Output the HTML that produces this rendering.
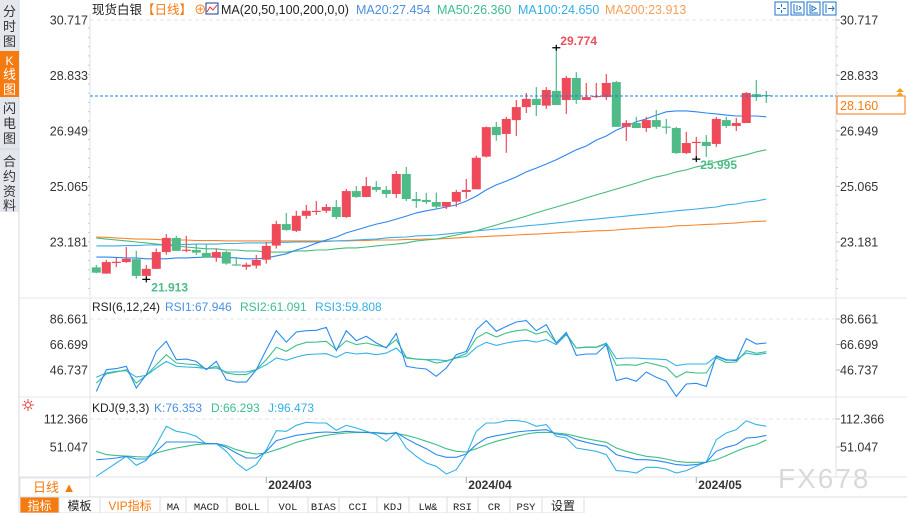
<!DOCTYPE html>
<html><head><meta charset="utf-8">
<style>
html,body{margin:0;padding:0;background:#fff;width:907px;height:513px;overflow:hidden;font-family:"Liberation Sans","Noto Sans CJK SC",sans-serif;}
svg{position:absolute;left:0;top:0;}
</style></head>
<body>
<svg id="chart" width="907" height="513" viewBox="0 0 907 513" xmlns="http://www.w3.org/2000/svg" font-family="Liberation Sans, Noto Sans CJK SC, sans-serif">
  <!-- left sidebar -->
  <g>
    <rect x="0" y="0" width="19" height="212" fill="#e4e7ee"/>
    <line x1="19" y1="0" x2="19" y2="513" stroke="#d5d9e0"/>
    <g><text x="9.5" y="16" font-size="13" fill="#333" text-anchor="middle">分</text><text x="9.5" y="31" font-size="13" fill="#333" text-anchor="middle">时</text><text x="9.5" y="46" font-size="13" fill="#333" text-anchor="middle">图</text></g>
    <rect x="0" y="51" width="19" height="46" fill="#f57a10"/>
    <text x="9.5" y="65" font-size="12" fill="#fff" text-anchor="middle">K</text><text x="9.5" y="79" font-size="13" fill="#fff" text-anchor="middle">线</text><text x="9.5" y="94" font-size="13" fill="#fff" text-anchor="middle">图</text>
    <g><text x="9.5" y="113" font-size="13" fill="#333" text-anchor="middle">闪</text><text x="9.5" y="128" font-size="13" fill="#333" text-anchor="middle">电</text><text x="9.5" y="143" font-size="13" fill="#333" text-anchor="middle">图</text></g>
    <line x1="0" y1="149" x2="19" y2="149" stroke="#cfd3db"/>
    <g><text x="9.5" y="166" font-size="13" fill="#333" text-anchor="middle">合</text><text x="9.5" y="181" font-size="13" fill="#333" text-anchor="middle">约</text><text x="9.5" y="196" font-size="13" fill="#333" text-anchor="middle">资</text><text x="9.5" y="210" font-size="13" fill="#333" text-anchor="middle">料</text></g>
  </g>
  <!-- frame lines -->
  <line x1="90" y1="14" x2="90" y2="477" stroke="#dde2ea"/>
  <line x1="836" y1="14" x2="836" y2="477" stroke="#dde2ea"/>
  <line x1="19" y1="298" x2="907" y2="298" stroke="#e3e7ee"/>
  <line x1="19" y1="397" x2="907" y2="397" stroke="#e3e7ee"/>
  <line x1="19" y1="477" x2="907" y2="477" stroke="#dde2ea"/>
  <line x1="90" y1="20" x2="836" y2="20" stroke="#e6e6e6" stroke-dasharray="4,3"/>
  <line x1="90" y1="319" x2="836" y2="319" stroke="#e6e6e6" stroke-dasharray="4,3"/>
  <line x1="90" y1="419" x2="836" y2="419" stroke="#e6e6e6" stroke-dasharray="4,3"/>

  <!-- legend -->
  <text y="14" font-size="12.5">
    <tspan x="92" fill="#222">现货白银</tspan><tspan fill="#f57a10">【日线】</tspan><tspan fill="#f57a10" dx="2">⊕</tspan>
    <tspan x="221" fill="#222">MA(20,50,100,200,0,0)</tspan>
    <tspan x="356" fill="#4a90e2">MA20:27.454</tspan>
    <tspan x="437" fill="#3dbd8a">MA50:26.360</tspan>
    <tspan x="518" fill="#33aee6">MA100:24.650</tspan>
    <tspan x="605" fill="#f5a05a">MA200:23.913</tspan>
  </text>
  <g><rect x="206" y="3" width="12" height="11" fill="#fff" stroke="#1a3d8f"/><polyline points="207,12 210,7 213,10 217,5" fill="none" stroke="#d33" stroke-width="1"/></g>

  <!-- top-right icons -->
  <g stroke="#1d73c9" fill="none">
    <g><rect x="775" y="2" width="13" height="13"/><path d="M781.5 4v3M781.5 10v3M777 8.5h3M783 8.5h3"/></g>
    <g><rect x="791" y="2" width="13" height="13"/><path d="M794 4v9h8M797 5v6M799 6l2 2-2 2"/></g>
    <g><rect x="807" y="2" width="13" height="13"/><path d="M810 4v9h8M812 6l4 2.5-4 2.5z"/></g>
    <g><rect x="823" y="2" width="13" height="13"/><path d="M826 4v9M828 8.5h6M832 6l2 2.5-2 2.5"/></g>
  </g>

  <g id="axes" font-size="12.5" fill="#333"></g>
  <g id="ma"></g>
  <g id="candles"></g>
  <g id="ind"></g>

  <!-- current price -->
  <line x1="90" y1="96" x2="836" y2="96" stroke="#1e7fe8" stroke-dasharray="3,2"/>
  <rect x="837" y="96" width="68" height="18" fill="#fff" stroke="#f57a10"/>
  <text x="840" y="110" font-size="12.5" fill="#f57a10">28.160</text>
  <path d="M896 92l4-4 4 4zM896 96l4-4 4 4z" fill="#f5a020"/>

  <!-- indicator legends -->
  <text y="311" font-size="12">
    <tspan x="92" fill="#222">RSI(6,12,24)</tspan><tspan x="165" fill="#4a90e2">RSI1:67.946</tspan><tspan x="240" fill="#3dbd8a">RSI2:61.091</tspan><tspan x="315" fill="#33aee6">RSI3:59.808</tspan>
  </text>
  <text y="412" font-size="12">
    <tspan x="92" fill="#222">KDJ(9,3,3)</tspan><tspan x="154" fill="#4a90e2">K:76.353</tspan><tspan x="211" fill="#3dbd8a">D:66.293</tspan><tspan x="268" fill="#33aee6">J:96.473</tspan>
  </text>
  <g stroke="#e0443a" fill="none"><circle cx="28" cy="405" r="2.5"/><path d="M22 405h3M31 405h3M28 399v3M28 408v3M24 401l1.5 1.5M30.5 407.5L32 409M32 401l-1.5 1.5M25.5 407.5L24 409"/></g>

  <!-- bottom -->
  <rect x="20" y="478" width="70" height="19" fill="#fff" stroke="#e3e7ee"/>
  <text x="33" y="492" font-size="13" fill="#f57a10">日线 ▲</text>
  <g id="dates" font-size="12" fill="#333" font-weight="bold"></g>
  <text x="778" y="488" font-size="28" fill="#d9d9d9" letter-spacing="2">FX678</text>
  <g id="toolbar"></g>
</svg>
<script>
// ---- data ----
const dates = ["2024/03","2024/04","2024/05"];
const dateIdx = [17,37,60];
const priceTicks = [30.717,28.833,26.949,25.065,23.181];
const rsiTicks = [86.661,66.699,46.737];
const kdjTicks = [112.366,51.047];
const openP  = [22.32,22.11,22.49,22.50,22.60,22.03,22.27,22.84,23.32,22.88,22.91,22.81,22.65,22.84,22.42,22.34,22.38,22.58,23.06,23.79,23.56,24.07,24.22,24.24,24.37,24.03,24.91,24.71,25.05,24.95,24.81,25.49,24.64,24.61,24.54,24.38,24.55,24.88,24.97,26.08,27.09,26.85,27.32,27.76,28.04,27.81,28.31,28.00,28.75,28.00,28.12,28.10,28.61,27.09,27.22,27.05,27.32,27.10,27.05,26.20,26.56,26.58,26.51,27.32,27.12,27.22,28.20,28.17];
const highP  = [22.40,22.57,22.64,23.01,22.88,22.40,22.96,23.45,23.39,23.39,23.11,23.11,22.95,22.88,22.67,22.48,22.74,23.18,23.90,24.17,24.24,24.44,24.57,24.47,24.61,24.98,25.08,25.39,25.25,25.08,25.59,25.73,24.88,24.85,24.86,24.54,24.95,25.32,26.11,27.10,27.26,27.43,28.00,28.24,28.44,28.44,29.774,28.82,28.95,28.58,28.58,28.88,28.65,27.32,27.43,27.43,27.66,27.36,27.09,26.92,26.75,26.81,27.43,27.43,27.39,28.27,28.68,28.31];
const lowP   = [22.12,22.10,22.33,22.47,21.94,21.913,22.26,22.75,22.88,22.84,22.74,22.65,22.51,22.41,22.38,22.24,22.28,22.45,22.96,23.56,23.52,23.97,24.10,24.17,23.96,24.00,24.68,24.70,24.88,24.68,24.68,24.57,24.34,24.47,24.30,24.30,24.37,24.65,24.97,26.05,26.62,26.21,26.78,27.56,27.46,27.70,27.83,27.53,27.87,28.00,28.07,28.00,27.09,26.61,27.05,26.92,27.02,26.85,26.17,26.17,25.995,26.07,26.41,27.05,26.95,27.22,27.97,27.90];
const closeP = [22.14,22.50,22.51,22.61,22.03,22.27,22.84,23.32,22.88,22.92,22.82,22.65,22.84,22.45,22.40,22.41,22.57,23.05,23.79,23.59,24.07,24.24,24.24,24.37,24.03,24.91,24.71,25.08,24.95,24.81,25.49,24.64,24.57,24.54,24.38,24.54,24.88,24.95,26.04,27.08,26.81,27.36,27.76,28.04,27.83,28.34,27.83,28.75,28.00,28.10,28.14,28.58,27.09,27.22,27.05,27.32,27.09,27.09,26.20,26.54,26.58,26.44,27.36,27.12,27.22,28.24,28.10,28.16];
const ma20 = [22.67,22.67,22.66,22.64,22.64,22.61,22.61,22.61,22.64,22.64,22.66,22.67,22.67,22.66,22.64,22.61,22.61,22.64,22.71,22.78,22.91,23.01,23.14,23.25,23.35,23.49,23.59,23.69,23.79,23.86,23.96,24.06,24.17,24.24,24.30,24.37,24.44,24.57,24.74,24.95,25.12,25.25,25.39,25.56,25.69,25.83,25.97,26.14,26.31,26.44,26.64,26.78,26.98,27.12,27.26,27.36,27.49,27.60,27.63,27.63,27.60,27.56,27.53,27.49,27.46,27.46,27.46,27.43];
const ma50 = [23.32,23.28,23.25,23.22,23.18,23.15,23.11,23.08,23.05,23.01,22.98,22.95,22.95,22.91,22.91,22.88,22.88,22.84,22.84,22.84,22.88,22.88,22.91,22.91,22.95,22.98,22.98,23.01,23.05,23.08,23.11,23.15,23.22,23.25,23.28,23.35,23.42,23.49,23.56,23.66,23.76,23.86,23.96,24.06,24.17,24.27,24.37,24.47,24.57,24.68,24.78,24.88,24.98,25.08,25.18,25.29,25.39,25.46,25.56,25.63,25.73,25.80,25.90,25.97,26.07,26.14,26.24,26.31];
const ma100 = [23.05,23.05,23.05,23.06,23.06,23.08,23.08,23.08,23.10,23.10,23.11,23.11,23.11,23.13,23.13,23.15,23.15,23.15,23.17,23.17,23.18,23.18,23.18,23.20,23.22,23.23,23.25,23.27,23.28,23.32,23.34,23.35,23.39,23.40,23.42,23.45,23.49,23.52,23.56,23.59,23.62,23.66,23.69,23.73,23.76,23.79,23.83,23.86,23.90,23.93,23.96,24.00,24.03,24.06,24.10,24.13,24.17,24.20,24.24,24.27,24.30,24.34,24.37,24.44,24.47,24.54,24.57,24.64];
const ma200 = [23.35,23.34,23.32,23.30,23.28,23.28,23.27,23.25,23.25,23.25,23.23,23.23,23.23,23.22,23.22,23.22,23.22,23.22,23.22,23.22,23.22,23.22,23.22,23.22,23.22,23.22,23.23,23.23,23.25,23.25,23.25,23.27,23.27,23.28,23.28,23.30,23.32,23.34,23.35,23.37,23.39,23.40,23.42,23.44,23.45,23.47,23.49,23.51,23.52,23.54,23.56,23.57,23.59,23.62,23.64,23.66,23.68,23.69,23.73,23.74,23.76,23.78,23.79,23.81,23.83,23.86,23.88,23.89];
const rsi1 = [30.0,47.0,47.8,49.6,32.6,43.1,61.3,69.2,54.8,55.3,53.5,47.0,53.5,39.2,37.3,37.3,47.0,62.6,77.5,68.6,76.5,77.5,77.8,80.1,61.9,77.5,69.7,73.1,67.9,64.0,75.4,49.6,48.3,47.5,41.8,48.3,58.7,61.3,78.3,85.4,77.0,80.9,84.3,85.4,77.5,82.2,67.9,76.2,58.2,59.3,59.3,66.6,38.4,40.5,37.9,45.2,41.0,37.9,26.1,35.8,36.3,33.9,57.9,54.8,54.0,71.3,67.1,67.9];
const rsi2 = [36.5,43.6,45.2,47.0,36.5,42.5,50.9,58.7,52.2,51.4,50.9,47.5,49.6,44.4,43.1,43.1,47.0,54.8,64.5,61.3,66.0,68.4,68.6,69.2,62.6,69.7,66.6,67.9,66.0,64.5,70.5,56.6,55.3,54.8,52.2,53.5,56.6,59.5,71.8,76.2,72.6,75.7,77.5,78.3,74.9,77.0,67.9,75.2,63.9,64.5,64.5,67.1,50.4,50.9,50.4,52.7,50.9,48.8,41.0,45.2,44.4,44.4,56.1,52.7,53.0,61.9,59.8,61.1];
const rsi3 = [41.0,44.4,45.7,46.2,41.2,42.5,48.3,53.5,49.6,49.1,48.8,47.8,48.3,45.2,45.2,45.2,47.0,50.9,56.1,54.3,56.9,58.7,59.3,59.5,56.6,60.6,59.3,60.0,58.7,60.0,63.9,56.1,55.3,54.8,54.8,54.0,56.1,57.4,64.5,68.4,66.0,67.9,69.2,70.0,68.6,70.5,66.6,74.4,63.9,64.7,64.7,67.9,55.6,56.1,56.1,55.6,55.3,54.8,50.1,51.4,51.4,51.4,57.4,54.3,54.8,60.0,58.7,59.8];
const kK = [23.3,24.8,27.0,30.6,24.8,24.8,41.6,62.0,62.0,62.0,62.0,58.4,58.4,50.4,37.9,27.0,27.0,41.6,65.0,70.8,76.6,79.6,82.5,83.9,82.5,85.4,83.9,82.5,81.7,79.6,82.5,69.3,57.6,47.4,34.3,28.4,28.4,35.7,56.2,70.8,75.9,79.6,83.9,86.1,87.6,89.0,79.6,76.6,67.1,61.3,56.2,52.5,34.3,28.4,23.3,23.3,21.2,17.5,12.4,10.9,12.4,17.5,41.6,50.4,56.2,70.8,72.3,76.4];
const kD = [41.6,34.3,32.1,31.4,29.9,29.2,37.9,43.8,48.9,52.5,56.2,57.6,58.4,54.0,45.2,39.4,35.7,37.9,45.2,52.5,61.3,67.1,72.3,76.6,79.6,81.7,82.5,83.2,82.5,81.0,80.3,76.6,70.8,63.5,56.2,47.4,41.6,40.1,47.4,56.2,63.5,69.3,74.4,79.6,82.5,83.2,81.7,79.6,74.4,69.3,65.0,61.3,48.9,41.6,35.7,30.6,28.4,24.8,19.7,17.5,17.5,17.5,23.3,32.1,41.6,50.4,56.2,66.3];
const kJ = [-13.2,1.4,16.0,30.6,10.9,21.9,56.2,96.3,85.4,81.7,74.4,57.6,58.4,41.6,16.0,-0.7,12.4,45.2,86.8,85.4,98.5,105.1,103.6,103.6,87.6,98.5,92.7,85.4,78.1,63.5,83.2,48.9,30.6,16.0,8.7,-8.1,1.4,34.3,85.4,103.6,103.6,108.7,109.4,105.8,96.3,100.0,74.4,70.8,48.9,45.2,41.6,34.3,-0.7,-2.2,-5.9,6.5,6.5,2.9,-5.9,-0.7,8.7,18.2,67.1,81.7,89.0,108.7,100.0,96.5];
const toolbarItems = ["指标","模板","VIP指标","MA","MACD","BOLL","VOL","BIAS","CCI","KDJ","LW&","RSI","CR","PSY","设置"];

// ---- scales ----
const NS="http://www.w3.org/2000/svg";
const xOf = i => 96.3 + 10*i;
const pY = p => 20 + (30.717 - p) * 29.46;
const rY = v => 319 + (86.661 - v) * 1.2774;
const kY = v => 419 + (112.366 - v) * 0.4566;
function mk(tag, attrs, parent){const e=document.createElementNS(NS,tag);for(const k in attrs)e.setAttribute(k,attrs[k]);parent.appendChild(e);return e;}

// axes labels
const axes=document.getElementById('axes');
function tickLabels(ticks, fy, name){
  ticks.forEach(t=>{
    const yy=fy(t);
    const l=mk('text',{x:88,y:yy+4.5,'text-anchor':'end'},axes);
    
    
    l.textContent=t.toFixed(3);
    const r=mk('text',{x:840,y:yy+4.5},axes);
    
    
    r.textContent=t.toFixed(3);
    mk('line',{x1:836,y1:yy,x2:840,y2:yy,stroke:'#bbb'},axes);
  });
}
tickLabels(priceTicks,pY,'price-axis');
tickLabels(rsiTicks,rY,'rsi-axis');
tickLabels(kdjTicks,kY,'kdj-axis');
for(let y=28;y<295;y+=9.3){mk('line',{x1:836,y1:y,x2:838,y2:y,stroke:'#ccc'},axes);mk('line',{x1:88,y1:y,x2:90,y2:y,stroke:'#ccc'},axes);}

// MA lines
const maG=document.getElementById('ma');
function line(arr, fy, color, name, parent){
  const pts=arr.map((v,i)=>xOf(i).toFixed(1)+','+fy(v).toFixed(1)).join(' ');
  const pl=mk('polyline',{points:pts,fill:'none',stroke:color,'stroke-width':1.1},parent);
  
  
}
line(ma200,pY,'#f5862e','ma200-line',maG);
line(ma100,pY,'#3aaee8','ma100-line',maG);
line(ma50,pY,'#44bb7a','ma50-line',maG);
line(ma20,pY,'#2f86f0','ma20-line',maG);

// candles
const cg=document.getElementById('candles');
openP.forEach((o,i)=>{
  const c=closeP[i], up=c>=o, col=up?'#ee4a5a':'#4fbb88', x=xOf(i);
  const g=mk('g',{},cg);
  
  
  mk('line',{x1:x,y1:pY(highP[i]),x2:x,y2:pY(lowP[i]),stroke:col,'stroke-width':1.2},g);
  const top=pY(Math.max(o,c)), h=Math.max(1.2,Math.abs(pY(o)-pY(c)));
  mk('rect',{x:x-4.5,y:top,width:9,height:h,fill:col},g);
});
// high/low markers
function marker(i, price, label, color, dx, dy, name){
  const x=xOf(i), y=pY(price);
  mk('path',{d:`M${x-4} ${y}h8M${x} ${y-3}v6`,stroke:'#000','stroke-width':1.2},cg);
  const t=mk('text',{x:x+dx,y:y+dy,'font-size':12,'font-weight':'bold',fill:color},cg);
  
  
  t.textContent=label;
}
marker(46,highP[46],highP[46].toFixed(3),'#e8505f',4,-3,'max-price-label');
marker(5,lowP[5],lowP[5].toFixed(3),'#4fbb88',5,12,'min-price-label');
marker(60,lowP[60],lowP[60].toFixed(3),'#4fbb88',4,10,'recent-low-label');

// indicators
const ig=document.getElementById('ind');
line(rsi3,rY,'#33b3e6','rsi3-line',ig);
line(rsi2,rY,'#3cc085','rsi2-line',ig);
line(rsi1,rY,'#2a8af0','rsi1-line',ig);
line(kJ,kY,'#33b3e6','kdj-j-line',ig);
line(kD,kY,'#3cc085','kdj-d-line',ig);
line(kK,kY,'#2a8af0','kdj-k-line',ig);

// dates
const dg=document.getElementById('dates');
dates.forEach((d,k)=>{
  const x=xOf(dateIdx[k]);
  mk('line',{x1:x,y1:477,x2:x,y2:483,stroke:'#aaa'},dg);
  const t=mk('text',{x:x+2,y:489},dg);
  
  
  t.textContent=d;
});

// toolbar
const tb=document.getElementById('toolbar');
const tbEdges=[20,59,100,160,186,227,268,308,339,377,409,447,478,510,542,584];
mk('rect',{x:19,y:497,width:888,height:16,fill:'#fff'},tb);
mk('line',{x1:19,y1:497,x2:907,y2:497,stroke:'#d8dce3'},tb);
toolbarItems.forEach((s,k)=>{
  const x0=tbEdges[k], x1=tbEdges[k+1];
  const g=mk('g',{},tb);
  
  
  mk('rect',{x:x0,y:497,width:x1-x0,height:16,fill:k===0?'#f57a10':'#fff',stroke:'#d8dce3'},g);
  const ascii=/^[A-Z&]+$/.test(s);
  const t=mk('text',{x:(x0+x1)/2,y:510,'text-anchor':'middle','font-size':ascii?10.5:12,fill:k===0?'#fff':(k===2?'#f57a10':'#222'),'font-family':ascii?'Liberation Mono, monospace':'Liberation Sans, Noto Sans CJK SC, sans-serif'},g);
  t.textContent=s;
});
</script>
</body></html>
